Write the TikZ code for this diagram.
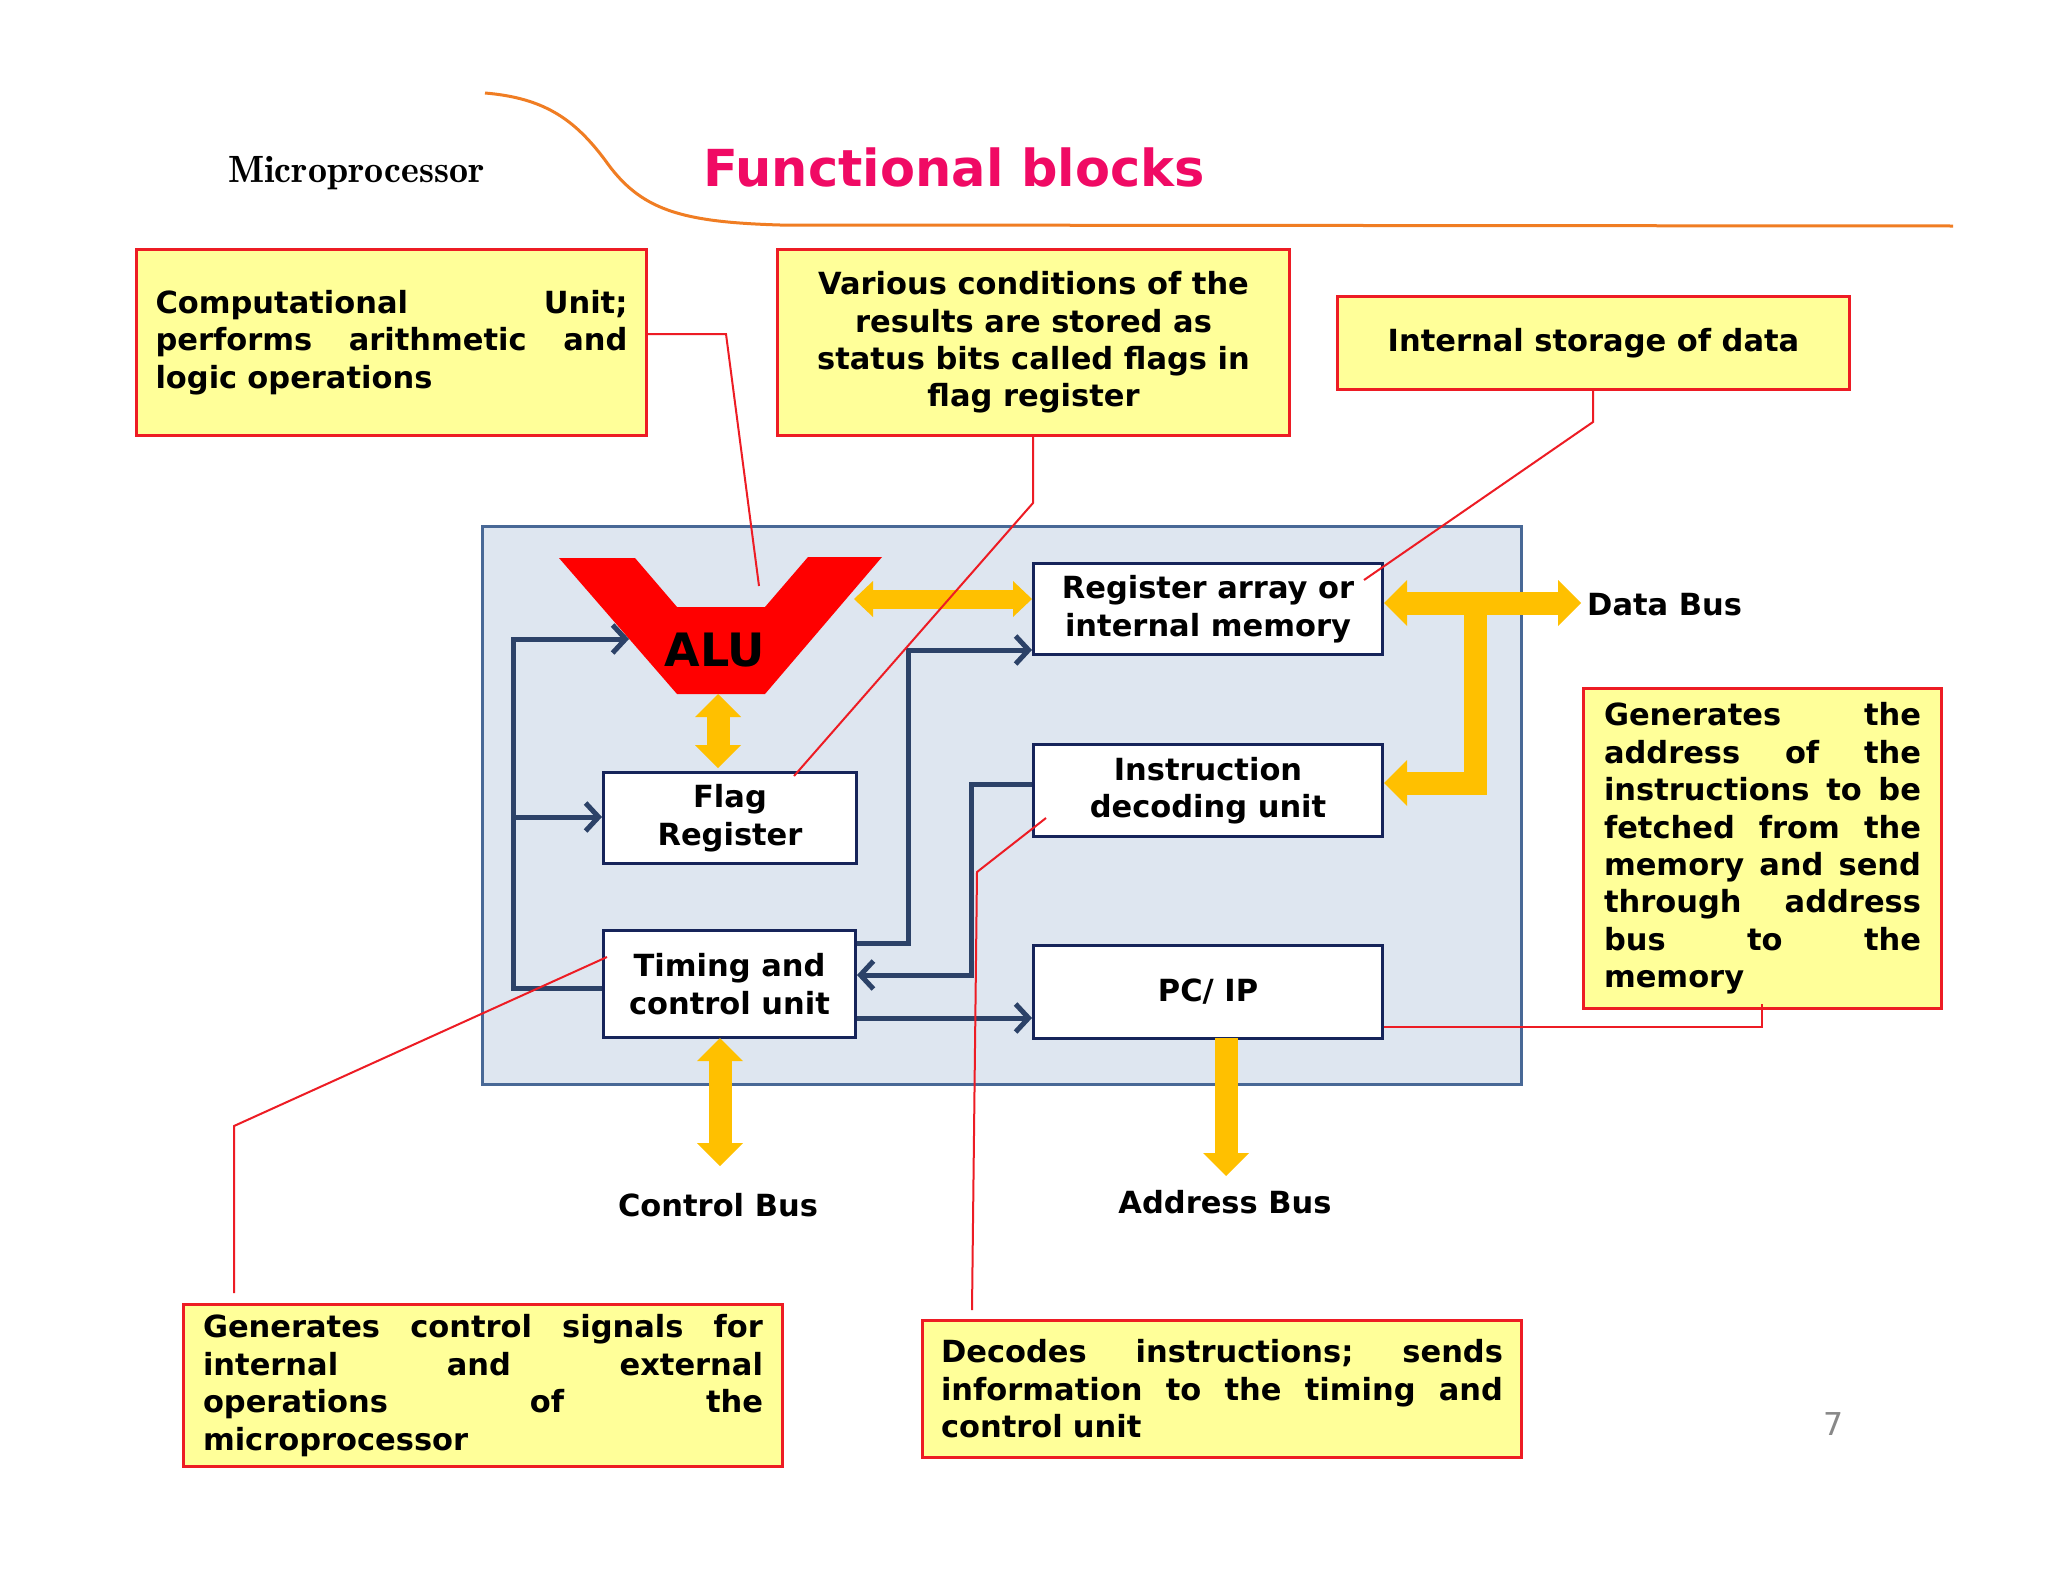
\documentclass[tikz,border=0pt]{standalone}
\usepackage{fontspec}
\setsansfont{DejaVu Sans}
\newfontfamily\lmdemi{lmromandemi10-regular.otf}
\usetikzlibrary{arrows.meta}
\definecolor{navyc}{RGB}{44,66,104}
\definecolor{boxc}{RGB}{22,36,90}
\definecolor{panelf}{RGB}{222,230,240}
\definecolor{paneld}{RGB}{72,104,150}
\definecolor{yelc}{RGB}{255,192,0}
\definecolor{callf}{RGB}{255,255,153}
\definecolor{redc}{RGB}{237,28,36}
\definecolor{pinkc}{RGB}{240,10,100}
\definecolor{orc}{RGB}{240,125,35}
\definecolor{grayc}{RGB}{136,136,136}
\newcommand\jl[2]{\leavevmode\hbox to #1{#2}}
\begin{document}
\begin{tikzpicture}[x=1pt,y=-1pt,
 txt/.style={font=\sffamily\bfseries\fontsize{30.5}{37.4}\selectfont, text=black},
 wbox/.style={txt, draw=boxc, line width=3pt, fill=white, anchor=north west, inner sep=0pt, align=center},
 callout/.style={txt, draw=redc, line width=3pt, fill=callf, anchor=north west, inner sep=0pt},
 nv/.style={draw=navyc, line width=5pt, line join=miter, >={Straight Barb[length=13pt,width=28pt]}},
 ybus/.style={draw=yelc, line width=23pt, line join=miter, >={Triangle[length=23pt,width=46pt,line width=0pt]}},
 ysmall/.style={draw=yelc, line width=19pt, >={Triangle[length=19pt,width=36pt,line width=0pt]}},
 lead/.style={draw=redc, line width=2pt}]
\useasboundingbox (0,0) rectangle (2048,1582);
\fill[white] (0,0) rectangle (2048,1582);

% header
\draw[orc, line width=3pt] (485,93) .. controls (545,98) and (575,120) .. (605,160)
  .. controls (640,210) and (680,222) .. (780,225) -- (1953,226);
\node[anchor=base west, inner sep=0pt, font=\lmdemi\fontsize{38}{42}\selectfont] (mp) at (228,182) {Microprocessor};
\node[anchor=west, inner sep=0pt, font=\sffamily\bfseries\fontsize{51}{56}\selectfont, text=pinkc] (title) at (703,167) {Functional blocks};

% panel
\node[draw=paneld, fill=panelf, line width=2.5pt, anchor=north west, minimum width=1039pt, minimum height=558pt, inner sep=0pt] (panel) at (481,525) {};

% ALU
\fill[red] (559,558) -- (635,558) -- (677,607) -- (765,607) -- (808,557) -- (882,557) -- (765,694) -- (677,694) -- cycle;
\node[inner sep=0pt, font=\sffamily\bfseries\fontsize{46}{50}\selectfont] (alu) at (715,650) {ALU};

% blocks
\node[wbox, minimum width=349pt, minimum height=91pt] (RA) at (1032,562) {Register array or\\internal memory};
\node[wbox, minimum width=349pt, minimum height=92pt] (ID) at (1032,743) {Instruction\\decoding unit};
\node[wbox, minimum width=253pt, minimum height=91pt] (FR) at (602,771) {Flag\\Register};
\node[wbox, minimum width=252pt, minimum height=107pt] (TC) at (602,929) {Timing and\\control unit};
\node[wbox, minimum width=349pt, minimum height=93pt] (PC) at (1032,944) {PC/ IP};

% navy connectors
\coordinate (aluW) at (629,639);
\coordinate (busTop) at (513,639);
\coordinate (busFR) at (513,817);
\draw[nv,->] (TC.west |- 0,988) -| (busTop) -- (aluW);
\draw[nv,->] (busFR) -- (FR.west |- busFR);
\coordinate (c1a) at (908,943);
\coordinate (c1b) at (908,650);
\draw[nv,->] (TC.east |- c1a) -- (c1a) -- (c1b) -- (RA.west |- c1b);
\coordinate (c2a) at (971,784);
\coordinate (c2b) at (971,975);
\draw[nv,->] (ID.west |- c2a) -- (c2a) -- (c2b) -- (TC.east |- c2b);
\coordinate (c3a) at (854,1018);
\draw[nv,->] (TC.east |- c3a) -- (PC.west |- c3a);

% yellow buses
\coordinate (aluE) at (854,599);
\draw[ysmall,<->] (aluE) -- (RA.west |- aluE);
\coordinate (aluS) at (718,694);
\coordinate (frN) at (718,768);
\draw[ybus,<->] (aluS) -- (frN);
\coordinate (dbR) at (1581,603);
\draw[ybus,<->] (RA.east |- dbR) -- (dbR);
\coordinate (dbJ) at (1475,603);
\coordinate (dbC) at (1475,783);
\coordinate (idE) at (1384,783);
\draw[ybus,->] (dbJ) -- (dbC) -- (idE);
\coordinate (cbT) at (720,1038);
\coordinate (cbB) at (720,1166);
\draw[ybus,<->] (cbT) -- (cbB);
\coordinate (abT) at (1226,1038);
\coordinate (abB) at (1226,1176);
\draw[ybus,->] (abT) -- (abB);

% bus labels
\node[txt, anchor=west, inner sep=0pt] (dbl) at (1587,605) {Data Bus};
\node[txt, inner sep=0pt] (cbl) at (718,1205) {Control Bus};
\node[txt, inner sep=0pt] (abl) at (1225,1202) {Address Bus};

% callouts
\node[callout, minimum width=510pt, minimum height=186pt, text width=472pt, align=left] (k1) at (135,248)
 {\jl{472pt}{Computational\hfill Unit;}\\\jl{472pt}{performs\hfill arithmetic\hfill and}\\logic operations};
\node[callout, minimum width=512pt, minimum height=186pt, align=center] (k2) at (776,248)
 {Various conditions of the\\results are stored as\\status bits called flags in\\flag register};
\node[callout, minimum width=512pt, minimum height=93pt, align=center] (k3) at (1336,295)
 {Internal storage of data};
\node[callout, minimum width=358pt, minimum height=320pt, text width=317pt, align=left] (k4) at (1582,687)
 {\jl{317pt}{Generates\hfill the}\\\jl{317pt}{address\hfill of\hfill the}\\\jl{317pt}{instructions\hfill to\hfill be}\\\jl{317pt}{fetched\hfill from\hfill the}\\\jl{317pt}{memory\hfill and\hfill send}\\\jl{317pt}{through\hfill address}\\\jl{317pt}{bus\hfill to\hfill the}\\memory};
\node[callout, minimum width=599pt, minimum height=162pt, text width=560pt, align=left] (k5) at (182,1303)
 {\jl{560pt}{Generates\hfill control\hfill signals\hfill for}\\\jl{560pt}{internal\hfill and\hfill external}\\\jl{560pt}{operations\hfill of\hfill the}\\microprocessor};
\node[callout, minimum width=599pt, minimum height=137pt, text width=562pt, align=left] (k6) at (921,1319)
 {\jl{562pt}{Decodes\hfill instructions;\hfill sends}\\\jl{562pt}{information\hfill to\hfill the\hfill timing\hfill and}\\control unit};

% red leaders
\coordinate (l1a) at (726,334);
\coordinate (l1b) at (759,586);
\draw[lead] (k1.east |- l1a) -- (l1a) -- (l1b);
\coordinate (l2a) at (1033,503);
\coordinate (l2b) at (794,776);
\draw[lead] (k2.south -| l2a) -- (l2a) -- (l2b);
\coordinate (l3a) at (1593,422);
\coordinate (l3b) at (1364,580);
\draw[lead] (k3.south -| l3a) -- (l3a) -- (l3b);
\coordinate (l4a) at (1762,1027);
\coordinate (l4b) at (1762,1004);
\draw[lead] (PC.east |- l4a) -- (l4a) -- (l4b);
\coordinate (l5a) at (607,957);
\coordinate (l5b) at (234,1126);
\coordinate (l5c) at (234,1293);
\draw[lead] (l5a) -- (l5b) -- (l5c);
\coordinate (l6a) at (1046,818);
\coordinate (l6b) at (977,872);
\coordinate (l6c) at (972,1310);
\draw[lead] (l6a) -- (l6b) -- (l6c);

% page number
\node[font=\sffamily\fontsize{31.5}{34}\selectfont, text=grayc, inner sep=0pt] (pg) at (1833,1424) {7};
\end{tikzpicture}
\end{document}
